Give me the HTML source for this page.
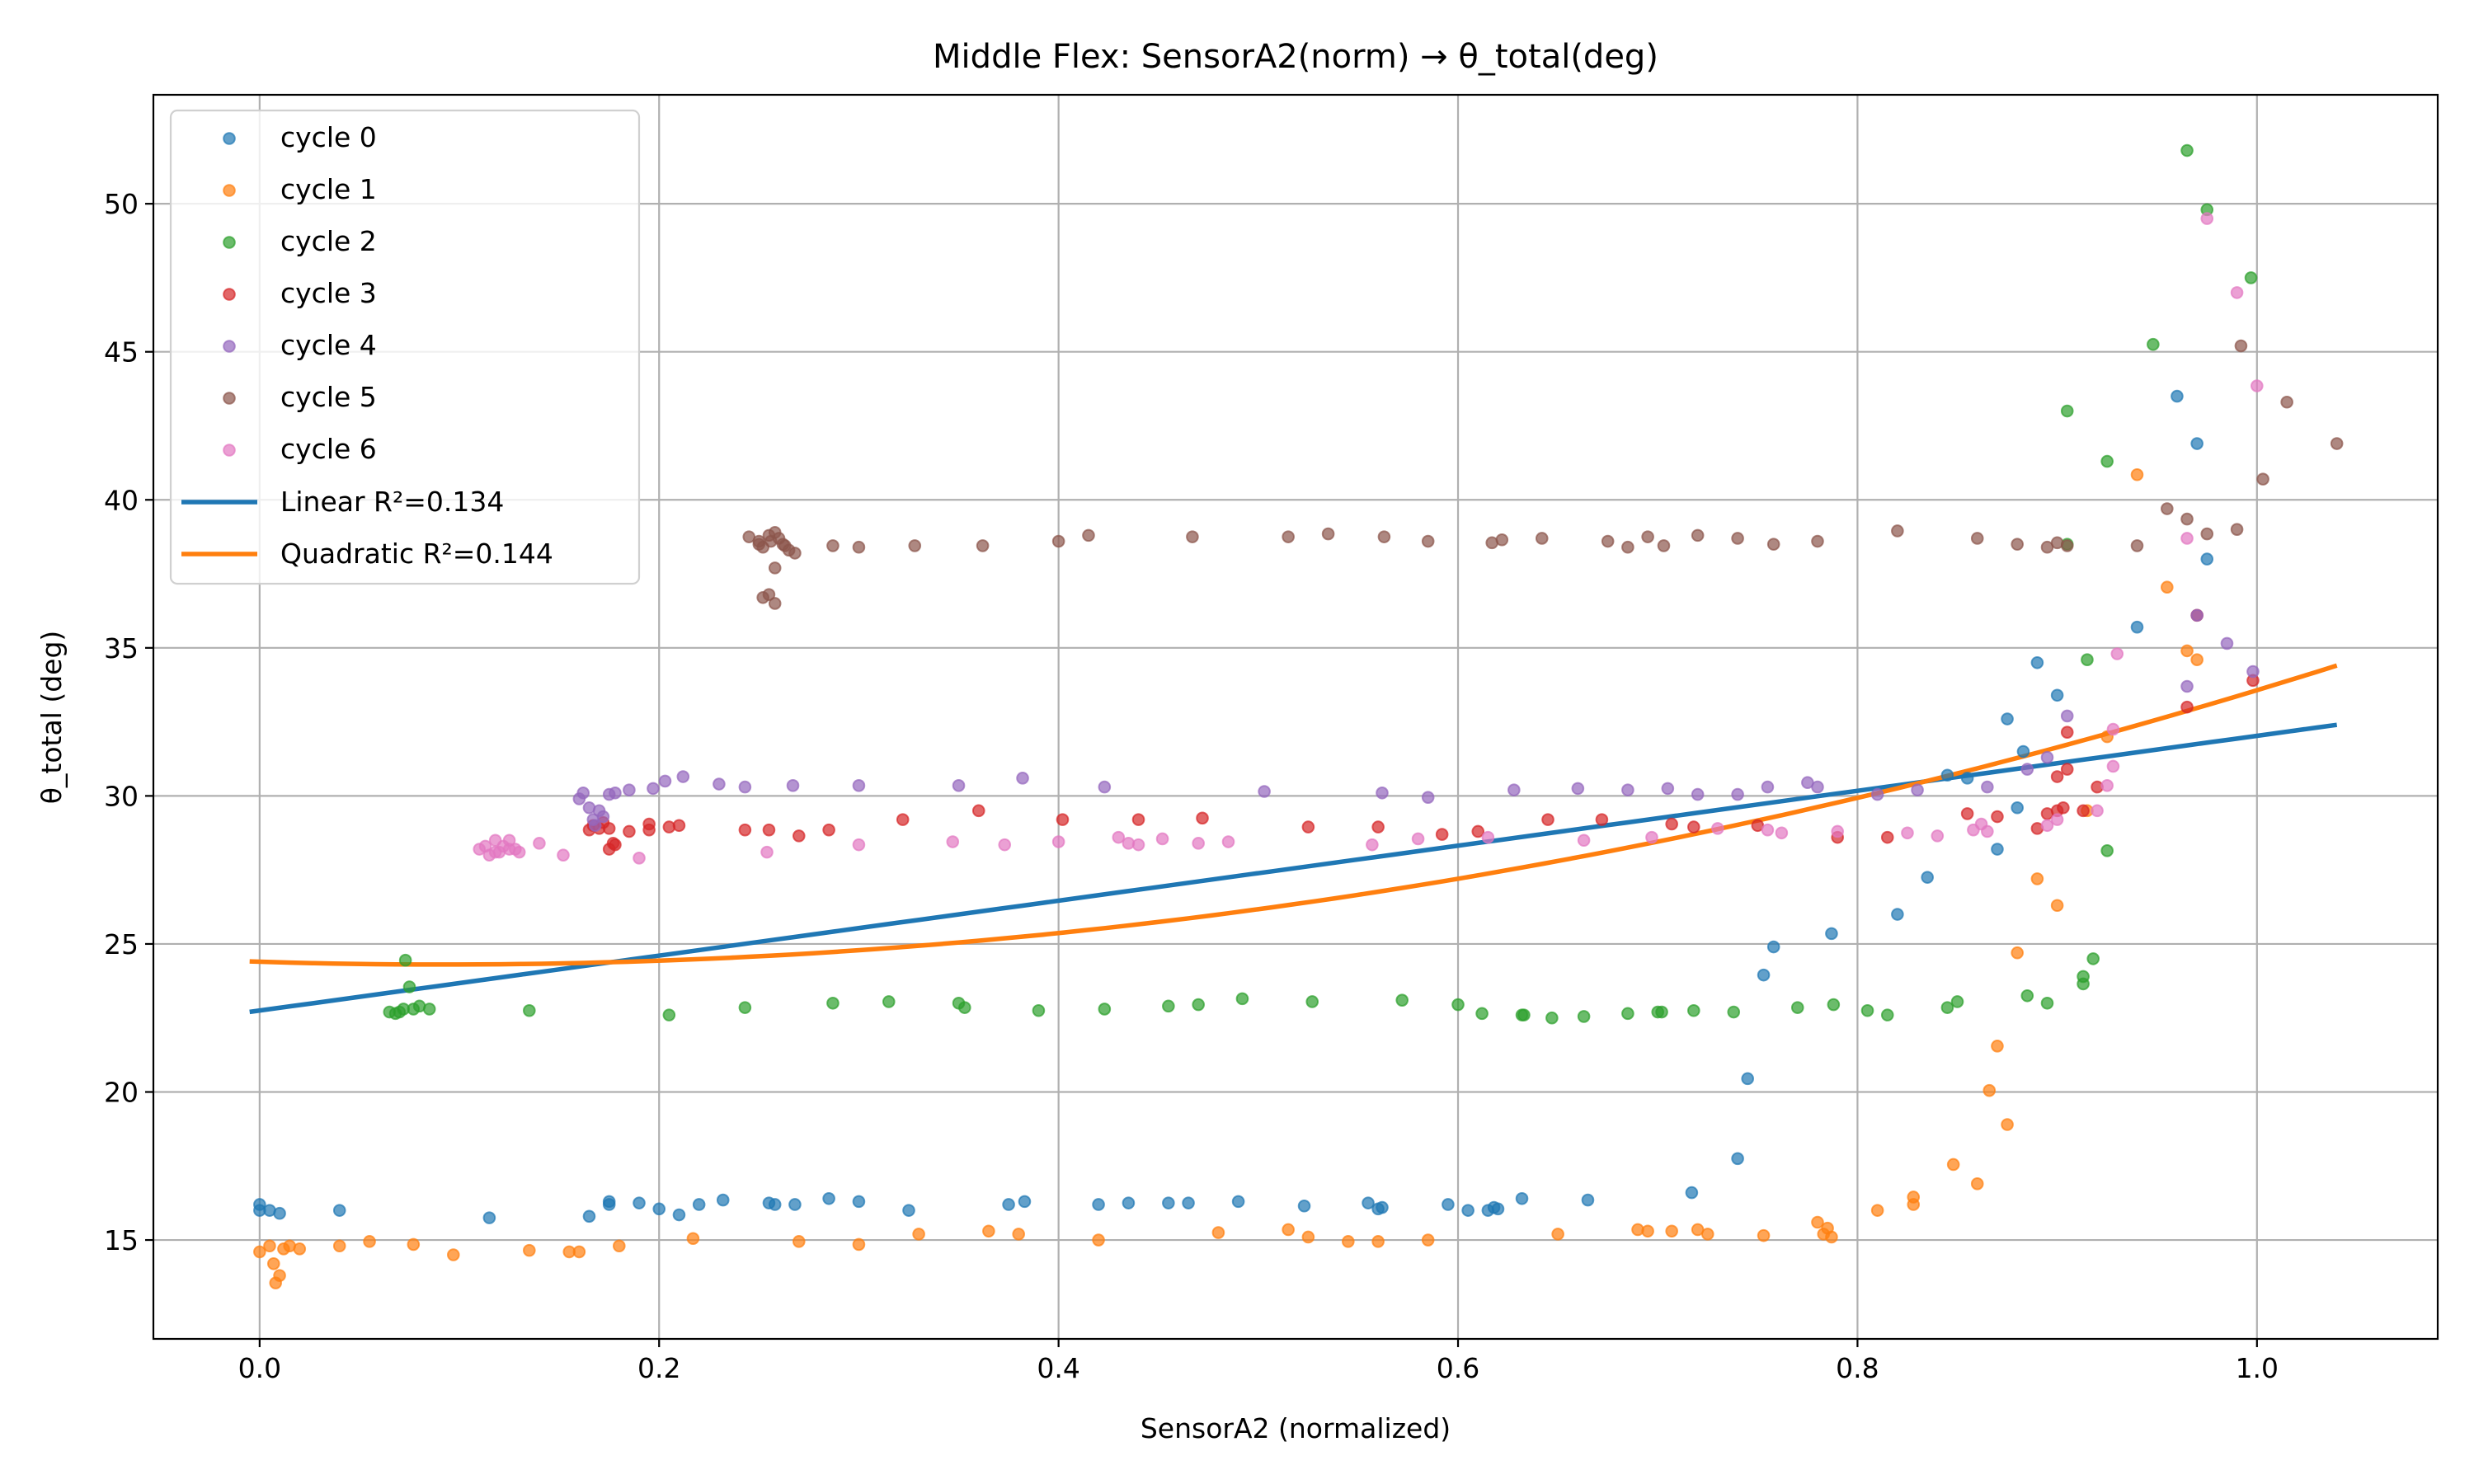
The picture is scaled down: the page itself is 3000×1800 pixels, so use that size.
<!DOCTYPE html>
<html><head><meta charset="utf-8">
<style>
html,body{margin:0;padding:0;background:#fff;}
svg{display:block;font-family:"DejaVu Sans","Liberation Sans",sans-serif;}
</style></head>
<body>
<svg id="chart" width="3000" height="1800" viewBox="0 0 3000 1800" xmlns="http://www.w3.org/2000/svg">
<rect x="0" y="0" width="3000" height="1800" fill="#fff"/>
<g id="grid"></g>
<g id="fits"></g>
<g id="points"></g>
<g id="axes"></g>
<g id="legend"></g>
<text x="1571" y="82" font-size="40" text-anchor="middle">Middle Flex: SensorA2(norm) → θ_total(deg)</text>
<text x="1571" y="1744" font-size="33" text-anchor="middle">SensorA2 (normalized)</text>
<text x="74" y="870" font-size="33" text-anchor="middle" transform="rotate(-90 74 870)">θ_total (deg)</text>
</svg>
<script>
const xTicks = [0.0, 0.2, 0.4, 0.6, 0.8, 1.0];
const xTickLabels = ["0.0", "0.2", "0.4", "0.6", "0.8", "1.0"];
const yTicks = [15, 20, 25, 30, 35, 40, 45, 50];
const yTickLabels = ["15", "20", "25", "30", "35", "40", "45", "50"];
const cycleNames = ["cycle 0","cycle 1","cycle 2","cycle 3","cycle 4","cycle 5","cycle 6"];
const colors = ["#1f77b4","#ff7f0e","#2ca02c","#d62728","#9467bd","#8c564b","#e377c2"];
const linearCoef = [22.75, 9.28];
const quadCoef = [24.4, -2.08, 11.25];
const fitRange = [-0.005, 1.04];
const fitLabels = ["Linear R²=0.134", "Quadratic R²=0.144"];

const c0x=[0,0,0.005,0.01,0.04,0.115,0.165,0.175,0.175,0.19,0.2,0.21,0.22,0.232,0.255,0.258,0.268,0.285,0.3,0.325,0.375,0.383,0.42,0.435,0.455,0.465,0.49,0.523,0.555,0.56,0.562,0.595,0.605,0.615,0.618,0.62,0.632,0.665,0.717,0.74,0.745,0.753,0.758,0.787,0.82,0.835,0.87,0.875,0.883,0.89,0.9,0.94,0.96,0.97,0.975,0.88,0.855,0.845];
const c0y=[16.2,16.0,16.0,15.9,16.0,15.75,15.8,16.2,16.3,16.25,16.05,15.85,16.2,16.35,16.25,16.2,16.2,16.4,16.3,16.0,16.2,16.3,16.2,16.25,16.25,16.25,16.3,16.15,16.25,16.05,16.1,16.2,16.0,16.0,16.1,16.05,16.4,16.35,16.6,17.75,20.45,23.95,24.9,25.35,26.0,27.25,28.2,32.6,31.5,34.5,33.4,35.7,43.5,41.9,38.0,29.6,30.6,30.7];
const c1x=[0,0.005,0.007,0.008,0.01,0.012,0.015,0.02,0.04,0.055,0.077,0.097,0.135,0.155,0.16,0.18,0.217,0.27,0.3,0.33,0.365,0.38,0.42,0.48,0.515,0.525,0.545,0.56,0.585,0.65,0.69,0.695,0.707,0.72,0.725,0.753,0.78,0.783,0.785,0.787,0.81,0.828,0.828,0.848,0.86,0.866,0.87,0.875,0.88,0.89,0.9,0.915,0.925,0.94,0.955,0.97,0.965];
const c1y=[14.6,14.8,14.2,13.55,13.8,14.7,14.8,14.7,14.8,14.95,14.85,14.5,14.65,14.6,14.6,14.8,15.05,14.95,14.85,15.2,15.3,15.2,15.0,15.25,15.35,15.1,14.95,14.95,15.0,15.2,15.35,15.3,15.3,15.35,15.2,15.15,15.6,15.2,15.4,15.1,16.0,16.2,16.45,17.55,16.9,20.05,21.55,18.9,24.7,27.2,26.3,29.5,32.0,40.85,37.05,34.6,34.9];
const c2x=[0.068,0.07,0.072,0.073,0.075,0.077,0.08,0.085,0.065,0.135,0.205,0.243,0.287,0.315,0.35,0.353,0.39,0.423,0.455,0.47,0.492,0.527,0.572,0.6,0.612,0.632,0.633,0.647,0.663,0.685,0.7,0.702,0.718,0.738,0.77,0.788,0.805,0.815,0.845,0.85,0.885,0.895,0.905,0.905,0.913,0.913,0.915,0.918,0.925,0.925,0.948,0.965,0.975,0.997];
const c2y=[22.65,22.7,22.8,24.45,23.55,22.8,22.9,22.8,22.7,22.75,22.6,22.85,23.0,23.05,23.0,22.85,22.75,22.8,22.9,22.95,23.15,23.05,23.1,22.95,22.65,22.6,22.6,22.5,22.55,22.65,22.7,22.7,22.75,22.7,22.85,22.95,22.75,22.6,22.85,23.05,23.25,23.0,43.0,38.5,23.65,23.9,34.6,24.5,41.3,28.15,45.25,51.8,49.8,47.5];
const c3x=[0.165,0.167,0.17,0.172,0.175,0.177,0.175,0.178,0.185,0.195,0.195,0.205,0.21,0.243,0.255,0.27,0.285,0.322,0.36,0.402,0.44,0.472,0.525,0.56,0.592,0.61,0.645,0.672,0.707,0.718,0.75,0.79,0.815,0.855,0.87,0.89,0.895,0.9,0.903,0.9,0.905,0.905,0.913,0.92,0.97,0.965,0.998];
const c3y=[28.85,29.0,28.9,29.1,28.2,28.4,28.9,28.35,28.8,29.05,28.85,28.95,29.0,28.85,28.85,28.65,28.85,29.2,29.5,29.2,29.2,29.25,28.95,28.95,28.7,28.8,29.2,29.2,29.05,28.95,29.0,28.6,28.6,29.4,29.3,28.9,29.4,29.5,29.6,30.65,30.9,32.15,29.5,30.3,36.1,33.0,33.9];
const c4x=[0.16,0.162,0.165,0.167,0.168,0.17,0.172,0.175,0.178,0.185,0.197,0.203,0.212,0.23,0.243,0.267,0.3,0.35,0.382,0.423,0.503,0.562,0.585,0.628,0.66,0.685,0.705,0.72,0.74,0.755,0.775,0.78,0.81,0.83,0.865,0.885,0.895,0.905,0.965,0.97,0.985,0.998];
const c4y=[29.9,30.1,29.6,29.2,29.0,29.5,29.3,30.05,30.1,30.2,30.25,30.5,30.65,30.4,30.3,30.35,30.35,30.35,30.6,30.3,30.15,30.1,29.95,30.2,30.25,30.2,30.25,30.05,30.05,30.3,30.45,30.3,30.05,30.2,30.3,30.9,31.3,32.7,33.7,36.1,35.15,34.2];
const c5x=[0.245,0.25,0.252,0.255,0.258,0.26,0.262,0.265,0.268,0.25,0.256,0.263,0.258,0.255,0.258,0.252,0.287,0.3,0.328,0.362,0.4,0.415,0.467,0.515,0.535,0.563,0.585,0.617,0.622,0.642,0.675,0.685,0.695,0.703,0.72,0.74,0.758,0.78,0.82,0.86,0.88,0.895,0.9,0.905,0.94,0.955,0.965,0.975,0.99,0.992,1.003,1.015,1.04];
const c5y=[38.75,38.6,38.4,38.8,38.9,38.7,38.5,38.3,38.2,38.5,38.6,38.45,37.7,36.8,36.5,36.7,38.45,38.4,38.45,38.45,38.6,38.8,38.75,38.75,38.85,38.75,38.6,38.55,38.65,38.7,38.6,38.4,38.75,38.45,38.8,38.7,38.5,38.6,38.95,38.7,38.5,38.4,38.55,38.45,38.45,39.7,39.35,38.85,39.0,45.2,40.7,43.3,41.9];
const c6x=[0.11,0.113,0.115,0.118,0.12,0.122,0.125,0.125,0.128,0.13,0.118,0.14,0.152,0.19,0.254,0.3,0.347,0.373,0.4,0.43,0.435,0.44,0.452,0.47,0.485,0.557,0.58,0.615,0.663,0.697,0.73,0.755,0.762,0.79,0.825,0.84,0.858,0.862,0.865,0.895,0.9,0.92,0.925,0.928,0.928,0.93,0.965,0.975,0.99,1.0];
const c6y=[28.2,28.3,28.0,28.5,28.1,28.3,28.2,28.5,28.2,28.1,28.1,28.4,28.0,27.9,28.1,28.35,28.45,28.35,28.45,28.6,28.4,28.35,28.55,28.4,28.45,28.35,28.55,28.6,28.5,28.6,28.9,28.85,28.75,28.8,28.75,28.65,28.85,29.05,28.8,29.0,29.2,29.5,30.35,31.0,32.25,34.8,38.7,49.5,47.0,43.85];
const seriesX=[c0x,c1x,c2x,c3x,c4x,c5x,c6x];
const seriesY=[c0y,c1y,c2y,c3y,c4y,c5y,c6y];

const NS="http://www.w3.org/2000/svg";
const L=186,R=2956,T=115,B=1624;
const xMin=-0.0532,xMax=1.0905,yMin=11.66,yMax=53.68;
function sx(v){return L+(v-xMin)/(xMax-xMin)*(R-L);}
function sy(v){return B-(v-yMin)/(yMax-yMin)*(B-T);}
function mk(tag,attrs,parent){const e=document.createElementNS(NS,tag);for(const k in attrs)e.setAttribute(k,attrs[k]);parent.appendChild(e);return e;}

const grid=document.getElementById('grid');
const axes=document.getElementById('axes');
xTicks.forEach((t,i)=>{
  const g=mk('line',{x1:sx(t),x2:sx(t),y1:T,y2:B,stroke:'#b0b0b0','stroke-width':2.2},grid);
  
  
  const tk=mk('line',{x1:sx(t),x2:sx(t),y1:B,y2:B+10,stroke:'#000','stroke-width':2.2},axes);
  
  
  const tx=mk('text',{x:sx(t),y:B+47,'font-size':33,'text-anchor':'middle'},axes);
  tx.textContent=xTickLabels[i];
  
  
});
yTicks.forEach((t,i)=>{
  const g=mk('line',{x1:L,x2:R,y1:sy(t),y2:sy(t),stroke:'#b0b0b0','stroke-width':2.2},grid);
  
  
  const tk=mk('line',{x1:L-10,x2:L,y1:sy(t),y2:sy(t),stroke:'#000','stroke-width':2.2},axes);
  
  
  const tx=mk('text',{x:L-18,y:sy(t)+12,'font-size':33,'text-anchor':'end'},axes);
  tx.textContent=yTickLabels[i];
  
  
});
const frame=mk('rect',{x:L,y:T,width:R-L,height:B-T,fill:'none',stroke:'#000','stroke-width':2.2},axes);



const pts=document.getElementById('points');
seriesX.forEach((xs,s)=>{
  const g=mk('g',{},pts);
  
  
  xs.forEach((xv,i)=>{
    const c=mk('circle',{cx:sx(xv),cy:sy(seriesY[s][i]),r:6.8,fill:colors[s],'fill-opacity':0.7,stroke:colors[s],'stroke-opacity':0.7,'stroke-width':2},g);
    
    
  });
});

const fits=document.getElementById('fits');
function poly(coef,x){let y=0;for(let k=0;k<coef.length;k++)y+=coef[k]*Math.pow(x,k);return y;}
[linearCoef,quadCoef].forEach((coef,j)=>{
  let d='';
  for(let i=0;i<=100;i++){const xv=fitRange[0]+(fitRange[1]-fitRange[0])*i/100;d+=(i?'L':'M')+sx(xv).toFixed(1)+','+sy(poly(coef,xv)).toFixed(1);}
  const p=mk('path',{d:d,fill:'none',stroke:colors[j],'stroke-width':5.5},fits);
  
  
});

const leg=document.getElementById('legend');
const box=mk('rect',{x:207,y:134,width:568,height:574,rx:8,fill:'#fff','fill-opacity':0.8,stroke:'#d0d0d0','stroke-width':2.2},leg);


const rowY0=168,rowDy=63;
cycleNames.forEach((nm,i)=>{
  const y=rowY0+i*rowDy;
  const c=mk('circle',{cx:278,cy:y,r:6.8,fill:colors[i],'fill-opacity':0.7,stroke:colors[i],'stroke-opacity':0.7,'stroke-width':2},leg);
  
  
  const t=mk('text',{x:340,y:y+10,'font-size':33},leg);
  t.textContent=nm;
  
  
});
fitLabels.forEach((nm,j)=>{
  const y=rowY0+(7+j)*rowDy;
  const l=mk('line',{x1:220,x2:312,y1:y,y2:y,stroke:colors[j],'stroke-width':5.5},leg);
  
  
  const t=mk('text',{x:340,y:y+11,'font-size':33},leg);
  t.textContent=nm;
  
  
});
</script>
</body></html>
